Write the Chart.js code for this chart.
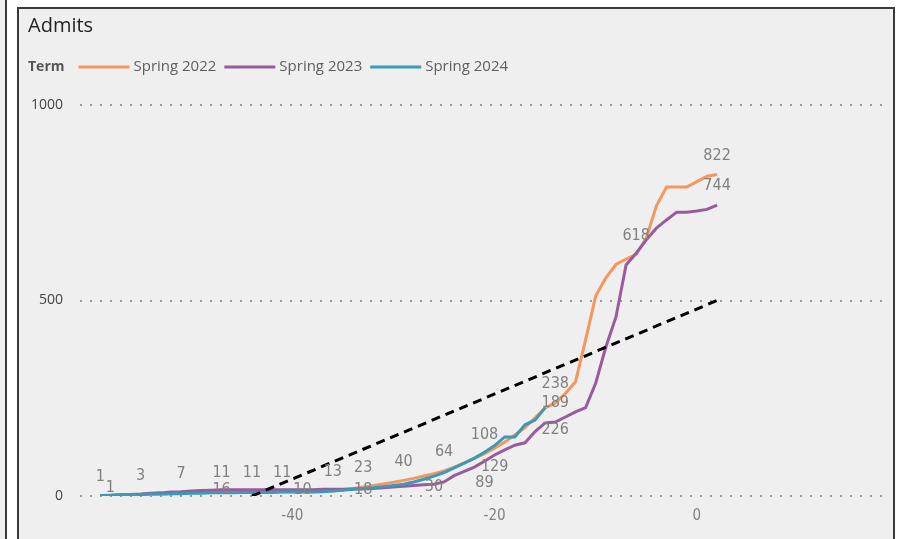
<!DOCTYPE html>
<html>
<head>
<meta charset="utf-8">
<script src="https://cdn.jsdelivr.net/npm/chart.js@4"></script>
<style>
  html, body { margin: 0; padding: 0; background: #fff; }
  body { width: 902px; height: 539px; position: relative; overflow: hidden; }
  #side { position: absolute; left: 0; top: 0; width: 5px; height: 539px; background: #efefef; border-right: 2px solid #3a3a3a; }
  #panel { position: absolute; left: 17px; top: 7px; width: 874px; height: 540px; background: #efefef; border: 2px solid #3a3a3a; }
  #wrap { position: absolute; left: 0; top: 0; width: 874px; height: 530px; }
</style>
</head>
<body>
<div id="side"></div>
<div id="panel"><div id="wrap"><canvas id="admits"></canvas></div></div>
<script>
// days relative to term start
const days = [-59, -58, -57, -56, -55, -54, -53, -52, -51, -50, -49, -48, -47, -46, -45, -44, -43, -42, -41, -40,
  -39, -38, -37, -36, -35, -34, -33, -32, -31, -30, -29, -28, -27, -26, -25, -24, -23, -22, -21, -20,
  -19, -18, -17, -16, -15, -14, -13, -12, -11, -10, -9, -8, -7, -6, -5, -4, -3, -2, -1, 0, 1, 2];

const spring2022 = [1, 1, 2, 2, 3, 4, 5, 6, 7, 8, 9, 10, 11, 11, 11, 11, 11, 11, 11, 11,
  11, 11, 12, 13, 16, 19, 23, 27, 31, 35, 40, 45, 51, 57, 64, 74, 85, 96, 108, 122,
  138, 156, 175, 200, 225, 238, 262, 292, 400, 512, 558, 592, 606, 618, 660, 742, 790, 790, 790, 804, 818, 822];

const spring2023 = [1, 1, 3, 4, 5, 7, 8, 10, 11, 13, 14, 15, 16, 16, 16, 16, 16, 16, 16, 16,
  16, 16, 17, 17, 17, 18, 18, 19, 21, 23, 25, 27, 29, 30, 36, 52, 63, 74, 89, 105,
  118, 130, 136, 165, 187, 189, 202, 215, 226, 289, 381, 458, 591, 621, 655, 685, 706, 726, 726, 729, 733, 744];

const spring2024 = [1, 2, 3, 4, 4, 5, 5, 6, 6, 7, 7, 8, 8, 8, 9, 9, 9, 9, 10, 10,
  10, 10, 11, 13, 15, 17, 19, 21, 24, 27, 30, 36, 43, 51, 60, 72, 84, 97, 112, 129,
  151, 151, 182, 194, 226];

const targetDays = [-44, 2];
const targetValues = [0, 500];

const xTicks = [-40, -20, 0];
const yTicks = [0, 500, 1000];

const terms = ['Spring 2022', 'Spring 2023', 'Spring 2024'];
const colors = ['#F5965F', '#985B9B', '#3A9AB8'];

function points(xs, ys) {
  return ys.map((v, i) => ({ x: xs[i], y: v }));
}

// which points get a value label, and where it sits
const labelSpots = [
  [{ d: -59 }, { d: -55 }, { d: -51 }, { d: -47 }, { d: -44 }, { d: -41 }, { d: -36 }, { d: -33 },
   { d: -29 }, { d: -25 }, { d: -21 }, { d: -14 }, { d: -6 }, { d: 2 }],
  [{ d: -58, dy: 11 }, { d: -47, dy: 19 }, { d: -33, dy: 20 }, { d: -26, dy: 22 }, { d: -21, dy: 41 },
   { d: -14 }, { d: 2 }],
  [{ d: -39, dy: 17 }, { d: -20, dy: 40 }, { d: -15, dy: 41, dx: 10 }]
];

const headerPlugin = {
  id: 'header',
  afterDraw(chart) {
    const c = chart.ctx;
    c.save();
    c.textBaseline = 'alphabetic';
    c.textAlign = 'left';
    c.fillStyle = '#252423';
    c.font = '20px "Open Sans"';
    c.fillText('Admits', 9, 23);

    const y = 58;
    c.textBaseline = 'middle';
    c.font = 'bold 14px "Open Sans"';
    c.fillStyle = '#555';
    c.fillText('Term', 9, y);
    let x = 9 + c.measureText('Term').width + 14;
    c.font = '15px "Open Sans"';
    terms.forEach((t, i) => {
      c.strokeStyle = colors[i];
      c.lineWidth = 3;
      c.beginPath();
      c.moveTo(x, y);
      c.lineTo(x + 51, y);
      c.stroke();
      x += 55;
      c.fillStyle = '#605e5c';
      c.fillText(t, x, y);
      x += c.measureText(t).width + 8;
    });
    c.restore();
  }
};

const valueLabels = {
  id: 'valueLabels',
  afterDatasetsDraw(chart) {
    const c = chart.ctx;
    const xs = chart.scales.x, ys = chart.scales.y;
    c.save();
    c.font = '16px "DejaVu Sans Condensed"';
    c.fillStyle = '#808080';
    c.textAlign = 'center';
    c.textBaseline = 'middle';
    labelSpots.forEach((spots, si) => {
      const data = chart.data.datasets[si].data;
      spots.forEach(s => {
        const p = data.find(q => q.x === s.d);
        if (!p) return;
        const px = xs.getPixelForValue(p.x) + (s.dx || 0);
        const py = ys.getPixelForValue(p.y) - 19 + (s.dy || 0);
        c.fillText(String(p.y), px, py);
      });
    });
    c.restore();
  }
};

new Chart(document.getElementById('admits'), {
  type: 'line',
  data: {
    datasets: [
      { label: terms[0], data: points(days, spring2022), borderColor: colors[0], borderWidth: 3, pointRadius: 0, order: 3 },
      { label: terms[1], data: points(days, spring2023), borderColor: colors[1], borderWidth: 3, pointRadius: 0, order: 2 },
      { label: terms[2], data: points(days, spring2024), borderColor: colors[2], borderWidth: 3, pointRadius: 0, order: 1 },
      { label: 'Target', data: points(targetDays, targetValues), borderColor: '#000', borderWidth: 3, borderDash: [9, 6], pointRadius: 0, order: 0 }
    ]
  },
  options: {
    responsive: true,
    maintainAspectRatio: false,
    animation: false,
    layout: { padding: { top: 96, right: 4, left: 0, bottom: 0 } },
    scales: {
      x: {
        type: 'linear',
        min: -61,
        max: 19,
        afterBuildTicks: s => { s.ticks = xTicks.map(v => ({ value: v })); },
        afterFit: s => { s.height = 43; },
        grid: { display: false, drawTicks: false },
        border: { display: false },
        ticks: { padding: 11, color: '#808080', font: { family: 'DejaVu Sans Condensed', size: 15 } }
      },
      y: {
        min: 0,
        max: 1000,
        afterBuildTicks: s => { s.ticks = yTicks.map(v => ({ value: v })); },
        afterFit: s => { s.width = 61; },
        grid: { color: '#9a9a9a', lineWidth: 2, drawTicks: false },
        border: { display: false, dash: [2, 8] },
        ticks: { padding: 17, color: '#444', font: { family: 'Open Sans', size: 14 }, callback: v => String(v) }
      }
    },
    plugins: {
      legend: { display: false },
      tooltip: { enabled: false }
    }
  },
  plugins: [headerPlugin, valueLabels]
});
</script>
</body>
</html>
